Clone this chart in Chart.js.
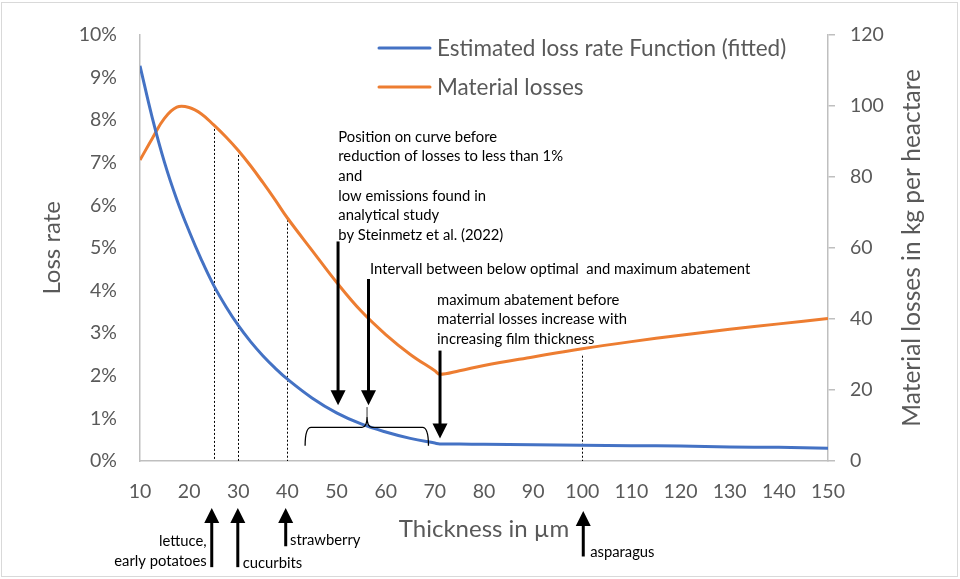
<!DOCTYPE html>
<html>
<head>
<meta charset="utf-8">
<script src="https://cdn.jsdelivr.net/npm/chart.js@4.4.0/dist/chart.umd.min.js"></script>
<style>
html,body{margin:0;padding:0;background:#fff;}
#wrap{width:960px;height:579px;position:relative;}
</style>
</head>
<body>
<div id="wrap"><canvas id="c" width="960" height="579"></canvas></div>
<script>
// ---- data ----
const thickness = [10, 12.5, 15, 17.5, 20, 22.5, 25, 27.5, 30, 32.5, 35, 37.5, 40, 45, 50, 55, 60, 65, 70, 71, 75, 80, 90, 100, 110, 120, 130, 140, 150];
const lossRate  = [9.27, 8.05, 7.00, 6.13, 5.39, 4.72, 4.12, 3.62, 3.18, 2.80, 2.47, 2.18, 1.92, 1.48, 1.13, 0.87, 0.68, 0.53, 0.42, 0.40, 0.40, 0.39, 0.38, 0.37, 0.36, 0.35, 0.33, 0.32, 0.30];
const materialLosses = [84.7, 90.8, 96.5, 99.6, 99.5, 97.7, 94.6, 91.2, 87.4, 83.1, 78.4, 73.5, 68.4, 59.3, 50.3, 42.2, 35.6, 30.0, 25.4, 24.4, 25.4, 26.9, 29.3, 31.6, 33.6, 35.4, 37.1, 38.6, 40.1];
const seriesNames = ['Estimated loss rate Function (fitted)', 'Material losses'];
const xTicks = {min: 10, max: 150, step: 10};
const leftTicks = {min: 0, max: 10, step: 1};
const rightTicks = {min: 0, max: 120, step: 20};
const axisTitles = {x: 'Thickness in µm', left: 'Loss rate', right: 'Material losses in kg per heactare'};

// ---- annotations (x in µm, y in % of the left axis) ----
const dottedLines = [ {x: 25, top: 7.79}, {x: 30, top: 7.18}, {x: 40, top: 5.66}, {x: 100, top: 2.47} ];
const downArrows = [ {x: 50.3, top: 5.15, tip: 1.31}, {x: 56.5, top: 4.27, tip: 1.31}, {x: 71.05, top: 2.59, tip: 0.53} ];
const upArrows = [ {x: 24.6, tip: -1.10, bottom: -2.49}, {x: 29.9, tip: -1.10, bottom: -2.49}, {x: 39.65, tip: -1.10, bottom: -2.0}, {x: 100.2, tip: -1.17, bottom: -2.24} ];
const brace = {x1: 43.6, x2: 68.7, xm: 56.2, yEnd: 0.36, yBar: 0.79, yPeak: 1.03};
const noteBlocks = [
  {x: 50.35, y: 7.60, align: 'left', lines: ['Position on curve before', 'reduction of losses to less than 1%', 'and', 'low emissions found in', 'analytical study', 'by Steinmetz et al. (2022)']},
  {x: 56.8, y: 4.49, align: 'left', lines: ['Intervall between below optimal  and maximum abatement']},
  {x: 70.45, y: 3.78, align: 'left', lines: ['maximum abatement before', 'materrial losses increase with', 'increasing film thickness']},
  {x: 23.57, y: -1.89, align: 'right', lines: ['lettuce,']},
  {x: 23.57, y: -2.35, align: 'right', lines: ['early potatoes']},
  {x: 30.9, y: -2.40, align: 'left', lines: ['cucurbits']},
  {x: 40.52, y: -1.86, align: 'left', lines: ['strawberry']},
  {x: 101.6, y: -2.14, align: 'left', lines: ['asparagus']}
];

const FONT = 'Lato, "Open Sans", sans-serif';
const GRAY = '#595959';
const AXIS = '#BFBFBF';
const BLUE = '#4472C4';
const ORANGE = '#ED7D31';

const blueData = thickness.map((t, i) => ({x: t, y: lossRate[i]}));
const orangeData = thickness.map((t, i) => ({x: t, y: materialLosses[i]}));

function arrowHead(ctx, x, tipY, dir) { // dir: +1 pointing down, -1 pointing up
  const w = 7.5, h = 15;
  ctx.beginPath();
  ctx.moveTo(x, tipY);
  ctx.lineTo(x - w, tipY - dir * h);
  ctx.lineTo(x + w, tipY - dir * h);
  ctx.closePath();
  ctx.fill();
}

const annotations = {
  id: 'annotations',
  beforeDatasetsDraw(chart) {
    const ctx = chart.ctx, xs = chart.scales.x, ys = chart.scales.y;
    ctx.save();
    ctx.strokeStyle = '#000';
    ctx.lineWidth = 1;
    ctx.setLineDash([2, 2]);
    dottedLines.forEach(d => {
      const px = Math.round(xs.getPixelForValue(d.x)) + 0.5;
      ctx.beginPath();
      ctx.moveTo(px, ys.getPixelForValue(d.top));
      ctx.lineTo(px, ys.getPixelForValue(0));
      ctx.stroke();
    });
    ctx.restore();
  },
  afterDatasetsDraw(chart) {
    const ctx = chart.ctx, xs = chart.scales.x, ys = chart.scales.y;
    ctx.save();
    ctx.fillStyle = '#000';
    ctx.strokeStyle = '#000';
    downArrows.forEach(a => {
      const px = xs.getPixelForValue(a.x);
      const t = ys.getPixelForValue(a.top), tip = ys.getPixelForValue(a.tip);
      ctx.lineWidth = 3;
      ctx.beginPath(); ctx.moveTo(px, t); ctx.lineTo(px, tip - 10); ctx.stroke();
      arrowHead(ctx, px, tip, 1);
    });
    upArrows.forEach(a => {
      const px = xs.getPixelForValue(a.x);
      const tip = ys.getPixelForValue(a.tip), b = ys.getPixelForValue(a.bottom);
      ctx.lineWidth = 3;
      ctx.beginPath(); ctx.moveTo(px, b); ctx.lineTo(px, tip + 10); ctx.stroke();
      arrowHead(ctx, px, tip, -1);
    });
    // brace
    const bx1 = xs.getPixelForValue(brace.x1), bx2 = xs.getPixelForValue(brace.x2), bxm = xs.getPixelForValue(brace.xm);
    const yEnd = ys.getPixelForValue(brace.yEnd), yBar = ys.getPixelForValue(brace.yBar), yPeak = ys.getPixelForValue(brace.yPeak);
    ctx.lineWidth = 1.3;
    ctx.beginPath();
    ctx.moveTo(bx1, yEnd);
    ctx.quadraticCurveTo(bx1, yBar, bx1 + 6, yBar);
    ctx.lineTo(bxm - 5, yBar);
    ctx.quadraticCurveTo(bxm, yBar, bxm, yPeak);
    ctx.quadraticCurveTo(bxm, yBar, bxm + 5, yBar);
    ctx.lineTo(bx2 - 6, yBar);
    ctx.quadraticCurveTo(bx2, yBar, bx2, yEnd);
    ctx.stroke();
    ctx.lineWidth = 0.8;
    ctx.beginPath(); ctx.moveTo(bxm, yPeak); ctx.lineTo(bxm, yPeak - 10); ctx.stroke();
    // text notes
    ctx.textBaseline = 'middle';
    ctx.font = '14.8px ' + FONT;
    noteBlocks.forEach(n => {
      ctx.textAlign = n.align;
      const px = xs.getPixelForValue(n.x), py = ys.getPixelForValue(n.y);
      n.lines.forEach((l, i) => ctx.fillText(l, px, py + i * 19.6));
    });
    // legend
    const lx = 379;
    const legendRows = [{y: 48, color: chart.data.datasets[0].borderColor, text: chart.data.datasets[0].label},
                        {y: 87, color: chart.data.datasets[1].borderColor, text: chart.data.datasets[1].label}];
    ctx.font = '22.5px ' + FONT;
    ctx.textAlign = 'left';
    legendRows.forEach(r => {
      ctx.strokeStyle = r.color; ctx.lineWidth = 3; ctx.lineCap = 'round';
      ctx.beginPath(); ctx.moveTo(lx, r.y); ctx.lineTo(lx + 51, r.y); ctx.stroke();
      ctx.fillStyle = GRAY;
      ctx.fillText(r.text, 437, r.y + 1);
    });
    // right axis title (reads bottom-to-top)
    ctx.save();
    ctx.translate(912, (chart.chartArea.top + chart.chartArea.bottom) / 2);
    ctx.rotate(-Math.PI / 2);
    ctx.textAlign = 'center';
    ctx.fillStyle = GRAY;
    ctx.font = '24.5px ' + FONT;
    ctx.fillText(axisTitles.right, 0, 0);
    ctx.restore();
    // outer frame
    ctx.strokeStyle = '#D9D9D9'; ctx.lineWidth = 1; ctx.setLineDash([]);
    ctx.strokeRect(1.5, 2.5, 956, 574);
    ctx.restore();
  }
};

new Chart(document.getElementById('c'), {
  type: 'line',
  data: {
    datasets: [
      {label: seriesNames[0], data: blueData, yAxisID: 'y', borderColor: BLUE, borderWidth: 3, pointRadius: 0, tension: 0.4, fill: false},
      {label: seriesNames[1], data: orangeData, yAxisID: 'y1', borderColor: ORANGE, borderWidth: 3, pointRadius: 0, tension: 0.4, fill: false}
    ]
  },
  options: {
    responsive: false,
    animation: false,
    devicePixelRatio: 1,
    layout: {padding: {top: 32, left: 0, right: 0, bottom: 0}},
    plugins: {legend: {display: false}, tooltip: {enabled: false}},
    scales: {
      x: {
        type: 'linear', min: xTicks.min, max: xTicks.max,
        ticks: {stepSize: xTicks.step, color: GRAY, font: {family: FONT, size: 19.5}, padding: 19, maxRotation: 0},
        grid: {display: false, drawTicks: false},
        border: {display: true, color: AXIS, width: 1.5},
        title: {display: true, text: axisTitles.x, color: GRAY, font: {family: FONT, size: 24}, padding: {top: 0, bottom: 35}},
        afterFit(s) { s.height = 118; }
      },
      y: {
        position: 'left', min: leftTicks.min, max: leftTicks.max,
        ticks: {stepSize: leftTicks.step, color: GRAY, font: {family: FONT, size: 19.5}, padding: 23, callback: v => v + '%'},
        grid: {display: false, drawTicks: false},
        border: {display: true, color: AXIS, width: 1.5},
        title: {display: true, text: axisTitles.left, color: GRAY, font: {family: FONT, size: 24}, padding: {top: 38, bottom: 0}},
        afterFit(s) { s.width = 140; }
      },
      y1: {
        position: 'right', min: rightTicks.min, max: rightTicks.max,
        ticks: {stepSize: rightTicks.step, color: GRAY, font: {family: FONT, size: 19.5}, padding: 15},
        grid: {display: true, drawOnChartArea: false, drawTicks: true, tickLength: 7, color: AXIS, lineWidth: 1.5},
        border: {display: true, color: AXIS, width: 1.5},
        afterFit(s) { s.width = 132; }
      }
    }
  },
  plugins: [annotations]
});
</script>
</body>
</html>
